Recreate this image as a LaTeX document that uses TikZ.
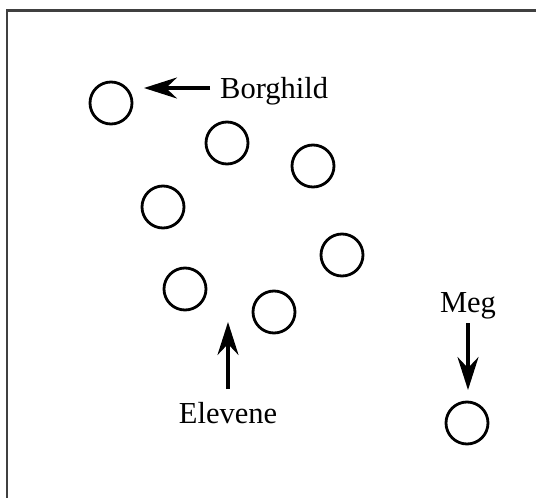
\documentclass[tikz,border=0pt]{standalone}
\usepackage{fontspec}
\setmainfont{Liberation Serif}
\usetikzlibrary{arrows.meta}
\begin{document}
\begin{tikzpicture}[x=1pt,y=-1pt,
  dot/.style={circle,draw=black,line width=2.8pt,minimum size=42pt,inner sep=0pt},
  lbl/.style={inner sep=0pt,font=\fontsize{30.5}{32}\selectfont},
  pointer/.style={line width=3.2pt,-{Stealth[length=33pt,width=21pt,inset=11pt]}}]
  \useasboundingbox (0,0) rectangle (536,498);
  % frame (right and bottom edges fall outside the page)
  \draw[line width=2.6pt,draw=black!75] (545,10.5) -- (7,10.5) -- (7,510);
  % the circles
  \node[dot] (c1) at (111,103) {};
  \node[dot] (c2) at (227,143) {};
  \node[dot] (c3) at (313,166) {};
  \node[dot] (c4) at (163,207) {};
  \node[dot] (c5) at (342,255) {};
  \node[dot] (c6) at (185,289) {};
  \node[dot] (c7) at (274,312) {};
  \node[dot] (c8) at (467,423) {};
  % labels
  \node[lbl,anchor=base west] (borghild) at (220,98) {Borghild};
  \node[lbl,anchor=base] (elevene) at (228,423) {Elevene};
  \node[lbl,anchor=base] (meg) at (468,312) {Meg};
  % pointer ends
  \coordinate (bTail) at (210,88);
  \coordinate (bTip) at (144,88);
  \coordinate (eTail) at (228,389);
  \coordinate (eTip) at (228,322);
  \coordinate (mTail) at (468,323);
  \coordinate (mTip) at (468,390);
  \draw[pointer] (bTail) -- (bTip);
  \draw[pointer] (eTail) -- (eTip);
  \draw[pointer] (mTail) -- (mTip);
\end{tikzpicture}
\end{document}
